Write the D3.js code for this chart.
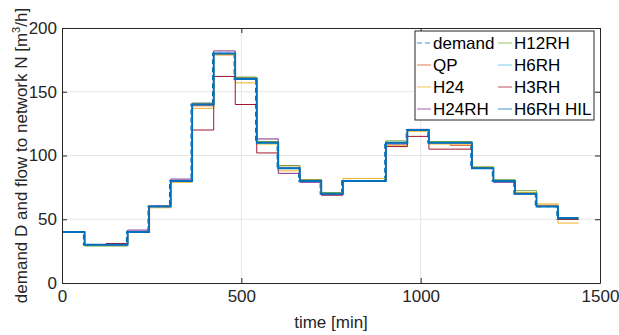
<!DOCTYPE html>
<html>
<head>
<meta charset="utf-8">
<script src="https://cdn.jsdelivr.net/npm/d3@7"></script>
<style>
  body { margin: 0; background: #fff; }
  svg { font-family: "Liberation Sans", Arial, sans-serif; }
</style>
</head>
<body>
<svg id="chart" width="619" height="335"></svg>
<script>
// hourly values, step starts at hour * 60 min
const hours = d3.range(25);
const demand  = [40,30,30,40,60,80,140,180,160,110,90,80,70,80,80,110,120,110,110,90,80,70,60,50];
const qp      = [40,30,31,40,60,80,139,179,160,111,92,81,70,80,80,110,120,110,108,90,80,70,61,50];
const h24     = [40,30,30,40,59,79,137,179,157,109,88,80,70,82,82,108,119,109,109,91,80,71,62,47];
const h24rh   = [40,30,30,41.5,60.5,81.5,141,182,161,113,86,79,69,80,80,109,120.5,110,110,90,79,70,60,50];
const h12rh   = [40,29,29,40,60,80,141,180,161.5,111,92,81,71,80,80,111.5,120,111,111,91,81,72.4,60,50];
const h6rh    = [40,30,30,40,60,80,140,180,160,110,90,80,70,80,80,110,120,110,110,90,80,70,60,51];
const h3rh    = [40,30,31,40,60,80,120,162,140,102,90,80,69,80,80,107,115,105,105,90,80,70,60,50];
const h6rhHil = [40,30,30,40,60,80,140,180,160,110,90,80,70,80,80,110,120,110,110,90,80,70,60,51];

const xTicks = [0, 500, 1000, 1500];
const yTicks = [0, 50, 100, 150, 200];

const series = [
  { name: "demand",   values: demand,  color: "#0072BD", dash: "5,3", width: 1.3, lag: 0 },
  { name: "QP",       values: qp,      color: "#D95319", width: 1, lag: 3 },
  { name: "H24",      values: h24,     color: "#EDB120", width: 1, lag: 3 },
  { name: "H24RH",    values: h24rh,   color: "#7E2F8E", width: 1, lag: 3 },
  { name: "H12RH",    values: h12rh,   color: "#77AC30", width: 1, lag: 3 },
  { name: "H6RH",     values: h6rh,    color: "#4DBEEE", width: 1, lag: 3 },
  { name: "H3RH",     values: h3rh,    color: "#A2142F", width: 1, lag: 3 },
  { name: "H6RH HIL", values: h6rhHil, color: "#0072BD", width: 1.8, lag: 3 }
];

const margin = { top: 28, right: 19, bottom: 52, left: 62 },
      width = 619 - margin.left - margin.right,
      height = 335 - margin.top - margin.bottom;
const fs = "17px";

const svg = d3.select("#chart");
const g = svg.append("g").attr("transform", `translate(${margin.left},${margin.top})`);

const x = d3.scaleLinear().domain([0, 1500]).range([0, width]);
const y = d3.scaleLinear().domain([0, 200]).range([height, 0]);

// grid
g.append("g").selectAll("line").data(xTicks.slice(1, -1)).enter().append("line")
  .attr("x1", d => x(d)).attr("x2", d => x(d)).attr("y1", 0).attr("y2", height)
  .attr("stroke", "#e6e6e6").attr("stroke-width", 1);
g.append("g").selectAll("line").data(yTicks.slice(1, -1)).enter().append("line")
  .attr("y1", d => y(d)).attr("y2", d => y(d)).attr("x1", 0).attr("x2", width)
  .attr("stroke", "#e6e6e6").attr("stroke-width", 1);

// lines
const line = d3.line().curve(d3.curveStepAfter);
series.forEach(s => {
  const pts = hours.map(h => [x(h * 60 + (h > 0 && h < 24 ? s.lag : 0)), y(s.values[Math.min(h, 23)])]);
  g.append("path")
    .attr("d", line(pts))
    .attr("fill", "none")
    .attr("stroke", s.color)
    .attr("stroke-width", s.width)
    .attr("stroke-dasharray", s.dash || null);
});

// axes (inward ticks, box)
const axisColor = "#262626";
g.append("g").attr("transform", `translate(0,${height})`)
  .call(d3.axisBottom(x).tickValues(xTicks).tickFormat(d3.format("d"))
    .tickSizeInner(-5).tickSizeOuter(0).tickPadding(7));
g.append("g")
  .call(d3.axisLeft(y).tickValues(yTicks).tickFormat(d3.format("d"))
    .tickSizeInner(-5).tickSizeOuter(0).tickPadding(5));
g.append("g").attr("transform", `translate(${width},0)`)
  .call(d3.axisRight(y).tickValues(yTicks).tickSizeInner(-5).tickSizeOuter(0).tickFormat(""));
g.append("g")
  .call(d3.axisTop(x).tickValues(xTicks).tickSizeInner(-5).tickSizeOuter(0).tickFormat(""));
g.selectAll(".domain").attr("stroke", axisColor);
g.selectAll(".tick line").attr("stroke", axisColor);
g.selectAll(".tick text").attr("fill", axisColor).style("font-size", fs);

// axis labels
g.append("text")
  .attr("x", width / 2).attr("y", height + 45)
  .attr("text-anchor", "middle").style("font-size", fs).attr("fill", axisColor)
  .text("time [min]");

const yl = g.append("text")
  .attr("transform", `translate(-35,${height / 2}) rotate(-90)`)
  .attr("text-anchor", "middle").style("font-size", fs).attr("fill", axisColor);
yl.append("tspan").text("demand D and flow to network N [m");
yl.append("tspan").attr("dy", -7).style("font-size", "11px").text("3");
yl.append("tspan").attr("dy", 7).text("/h]");

// legend
const lg = g.append("g").attr("transform", `translate(${415 - margin.left},${31 - margin.top})`);
lg.append("rect").attr("width", 179).attr("height", 89)
  .attr("fill", "#fff").attr("stroke", axisColor).attr("stroke-width", 1);
series.forEach((s, i) => {
  const col = Math.floor(i / 4), row = i % 4;
  const ox = col === 0 ? 2 : 83, oy = 12 + row * 22;
  lg.append("line")
    .attr("x1", ox).attr("x2", ox + 14).attr("y1", oy).attr("y2", oy)
    .attr("stroke", s.color).attr("stroke-width", 1).attr("opacity", 0.75)
    .attr("stroke-dasharray", s.dash || null);
  lg.append("text")
    .attr("x", ox + 16).attr("y", oy + 6)
    .style("font-size", fs).attr("fill", "#000")
    .text(s.name);
});
</script>
</body>
</html>
